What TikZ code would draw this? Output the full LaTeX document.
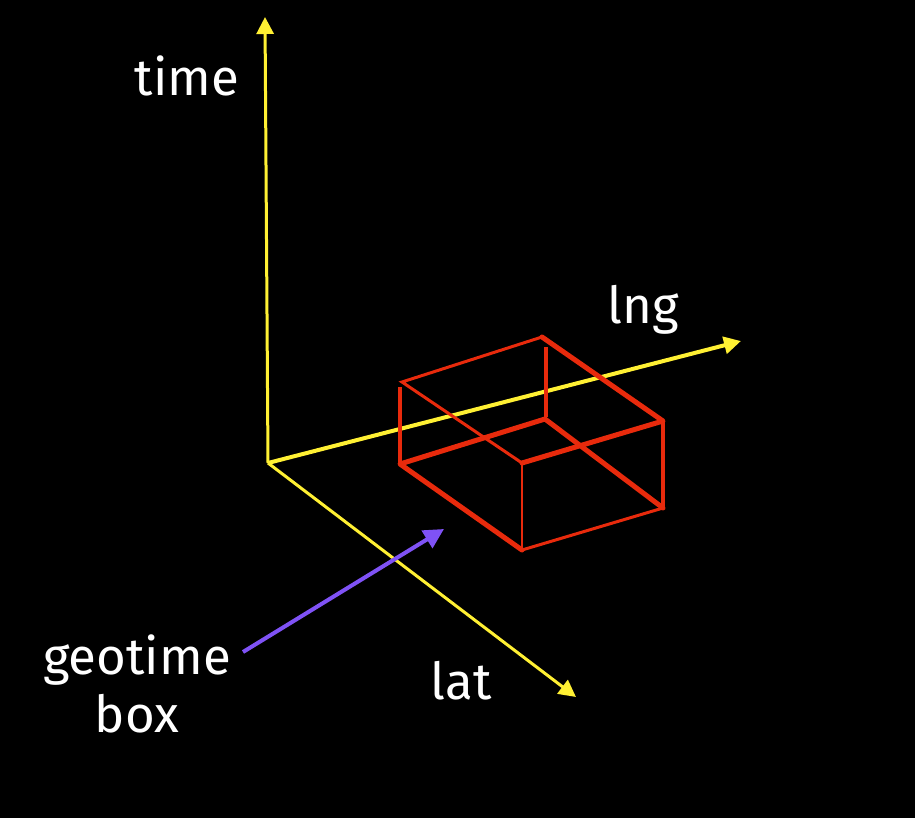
\documentclass[tikz,border=0pt]{standalone}
\usepackage{fontspec}
\setmainfont{Fira Sans}
\usetikzlibrary{arrows.meta}
\definecolor{axisyellow}{HTML}{FFF033}
\definecolor{boxred}{HTML}{E82A0C}
\definecolor{pointviolet}{HTML}{7F52F5}
\begin{document}
\begin{tikzpicture}[x=1pt,y=-1pt,>={Triangle[length=17pt,width=17pt]},every node/.style={font=\fontsize{51}{58}\selectfont,text=white}]
  \fill[black] (0,0) rectangle (915,818);
  \useasboundingbox (0,0) rectangle (915,818);
  % axes
  \coordinate (o) at (268,463);
  \coordinate (tend) at (265,17);
  \coordinate (lngend) at (741,341);
  \coordinate (latend) at (576,697);
  \draw[->,axisyellow,line width=3pt] (o)--(tend);
  \draw[->,axisyellow,line width=4pt] (o)--(lngend);
  \draw[->,axisyellow,line width=3pt] (o)--(latend);
  \node (time) at (187,76) {time};
  \node (lng) at (643,310) {lng};
  \node (lat) at (461,681) {lat};
  % box corners
  \coordinate (p1) at (402,382);
  \coordinate (p2) at (542,337);
  \coordinate (p3) at (663,421);
  \coordinate (p4) at (522,463);
  \coordinate (q1) at (400,464);
  \coordinate (q2) at (545,419);
  \coordinate (q3) at (663,508);
  \coordinate (q4) at (522,550);
  \draw[boxred,line width=5pt,line cap=round,line join=round] (p4)--(p3)--(p2);
  \draw[boxred,line width=5pt,line cap=round,line join=round] (q4)--(q1)--(q2)--(q3);
  \draw[boxred,line width=3pt,line cap=round] (q4)--(q3);
  \draw[boxred,line width=3pt,line cap=round] (p4)--(p1)--(p2);
  \draw[boxred,line width=4pt] (400,387)--(q1);
  \draw[boxred,line width=4pt] (546,347)--(546,417);
  \draw[boxred,line width=4pt] (p3)--(q3);
  \draw[boxred,line width=2.5pt] (p4)--(q4);
  % pointer
  \node[align=center] (gbox) at (137,684) {geotime\\box};
  \coordinate (gtail) at (243,652);
  \coordinate (ghead) at (444,529);
  \draw[->,pointviolet,line width=4pt,>={Triangle[length=20pt,width=20pt]}] (gtail)--(ghead);
\end{tikzpicture}
\end{document}
